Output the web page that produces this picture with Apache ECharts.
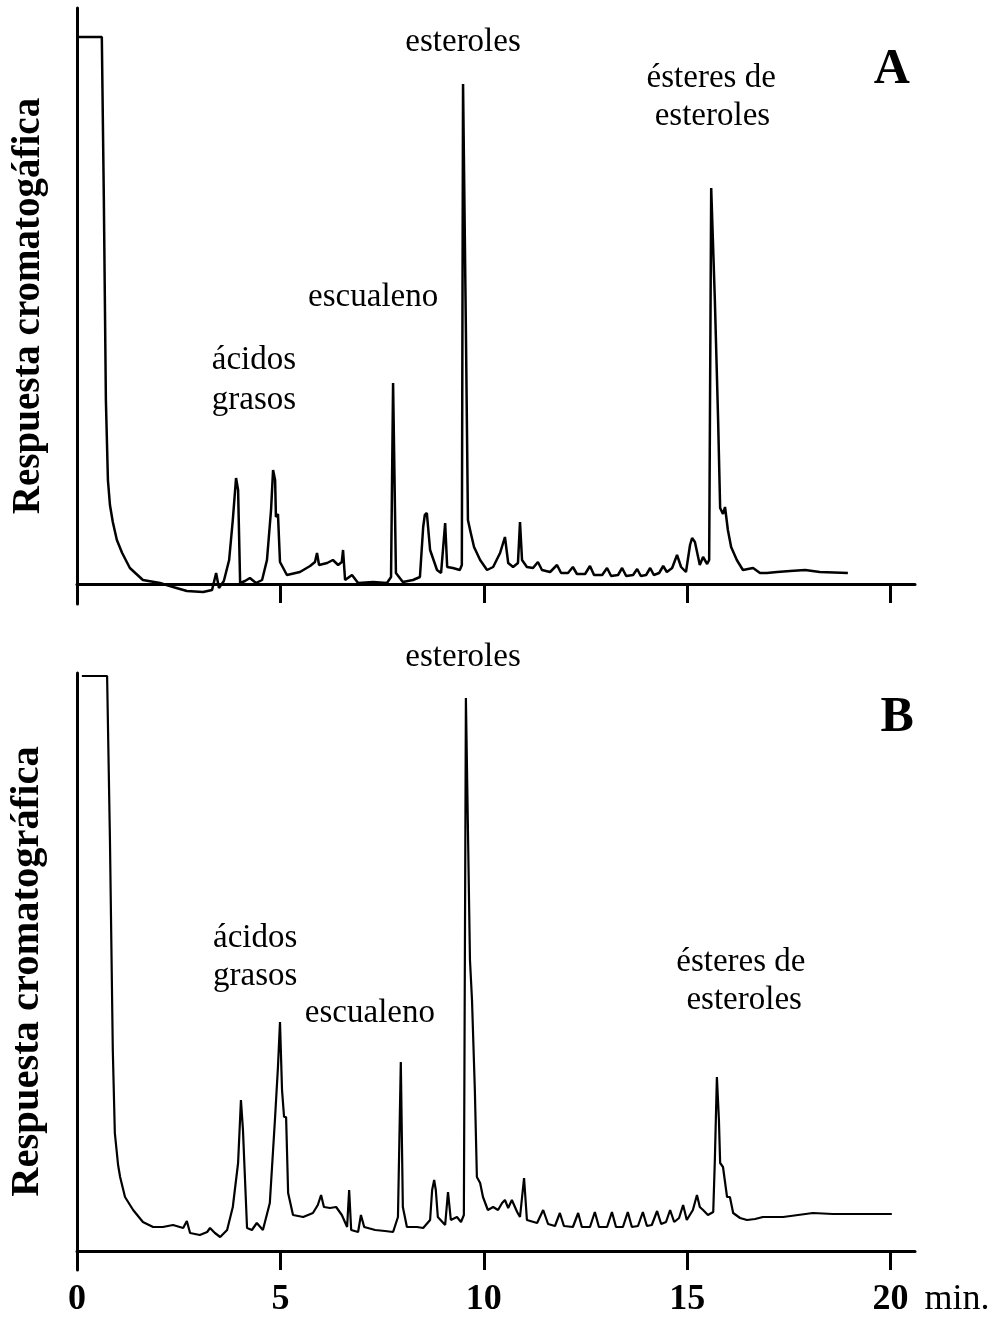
<!DOCTYPE html>
<html>
<head>
<meta charset="utf-8">
<script src="https://cdn.jsdelivr.net/npm/echarts@6/dist/echarts.min.js"></script>
<style>
  html, body { margin: 0; padding: 0; background: #fff; }
  #chart { width: 1003px; height: 1318px; }
</style>
</head>
<body>
<div id="chart"></div>
<script>
// cromatograma A (tiempo en min, respuesta en unidades arbitrarias)
const timeA = [0, 0.61, 0.66, 0.71, 0.76, 0.81, 0.88, 0.98, 1.11, 1.30, 1.62, 2.04, 2.36, 2.70, 3.10, 3.32, 3.42, 3.49, 3.61, 3.74,
  3.83, 3.91, 3.96, 4.01, 4.13, 4.25, 4.40, 4.55, 4.67, 4.77, 4.82, 4.87, 4.89, 4.94, 4.99, 5.16, 5.48, 5.73, 5.85, 5.90,
  5.95, 6.15, 6.29, 6.42, 6.51, 6.54, 6.59, 6.76, 6.91, 7.28, 7.62, 7.72, 7.77, 7.84, 8.01, 8.26, 8.43, 8.51, 8.55, 8.60,
  8.68, 8.85, 8.95, 9.05, 9.10, 9.24, 9.41, 9.46, 9.49, 9.56, 9.61, 9.68, 9.76, 9.91, 10.08, 10.23, 10.40, 10.52, 10.60, 10.72,
  10.84, 10.89, 10.94, 11.06, 11.21, 11.33, 11.43, 11.63, 11.80, 11.90, 12.07, 12.19, 12.29, 12.49, 12.61, 12.71, 12.91, 13.03, 13.13, 13.30,
  13.40, 13.50, 13.67, 13.77, 13.86, 13.99, 14.09, 14.18, 14.31, 14.41, 14.50, 14.63, 14.75, 14.85, 14.97, 15.07, 15.12, 15.19, 15.31, 15.39,
  15.49, 15.54, 15.59, 15.68, 15.76, 15.81, 15.88, 15.93, 16.00, 16.08, 16.22, 16.37, 16.62, 16.79, 16.96, 17.21, 17.53, 17.90, 18.26, 18.95];
const respA = [547, 547, 384, 184, 104, 79, 62, 44, 31, 16, 4, 1, -3, -7, -8, -6, 11, -4, 3, 24,
  64, 106, 94, 1, 3, 6, 1, 4, 24, 74, 114, 104, 67, 70, 22, 9, 12, 18, 22, 31,
  19, 21, 24, 19, 22, 34, 4, 9, 1, 2, 1, 7, 201, 11, 2, 4, 7, 57, 69, 71,
  34, 14, 11, 61, 17, 16, 14, 19, 500, 254, 64, 51, 37, 24, 14, 17, 31, 47, 21, 17,
  21, 62, 24, 17, 16, 22, 14, 12, 19, 11, 11, 17, 10, 10, 18, 9, 9, 16, 8, 9,
  16, 8, 9, 15, 8, 9, 16, 9, 11, 18, 12, 16, 29, 17, 12, 39, 46, 42, 19, 27,
  20, 24, 396, 284, 164, 76, 70, 77, 54, 37, 24, 14, 16, 11, 11, 12, 13, 14, 12, 11];

// cromatograma B
const timeB = [0.12, 0.74, 0.81, 0.88, 0.93, 1.01, 1.06, 1.18, 1.38, 1.62, 1.87, 2.11, 2.36, 2.61, 2.70, 2.78, 3.02, 3.20, 3.27, 3.39,
  3.52, 3.69, 3.83, 3.96, 4.03, 4.08, 4.11, 4.18, 4.30, 4.42, 4.57, 4.74, 4.87, 4.94, 4.99, 5.04, 5.09, 5.14, 5.19, 5.31,
  5.56, 5.80, 5.92, 6.00, 6.07, 6.22, 6.37, 6.51, 6.64, 6.69, 6.74, 6.91, 6.98, 7.06, 7.33, 7.57, 7.77, 7.89, 7.96, 8.01,
  8.11, 8.36, 8.51, 8.68, 8.73, 8.78, 8.82, 8.87, 9.05, 9.12, 9.19, 9.34, 9.44, 9.51, 9.56, 9.66, 9.71, 9.78, 9.83, 9.91,
  9.98, 10.10, 10.23, 10.35, 10.45, 10.52, 10.60, 10.69, 10.82, 10.89, 10.99, 11.06, 11.31, 11.46, 11.58, 11.75, 11.87, 11.97, 12.19, 12.32,
  12.41, 12.61, 12.73, 12.83, 13.03, 13.15, 13.25, 13.42, 13.54, 13.64, 13.79, 13.91, 14.01, 14.13, 14.26, 14.36, 14.48, 14.58, 14.68, 14.80,
  14.90, 14.99, 15.14, 15.24, 15.31, 15.39, 15.51, 15.64, 15.68, 15.73, 15.78, 15.81, 15.88, 15.98, 16.05, 16.13, 16.30, 16.47, 16.67, 16.86,
  17.36, 18.09, 18.58, 19.25, 20.03];
const respB = [575, 575, 411, 201, 118, 86, 74, 54, 41, 29, 24, 24, 26, 23, 30, 18, 16, 19, 23, 18,
  14, 21, 44, 88, 151, 121, 91, 23, 21, 28, 21, 48, 134, 184, 229, 161, 134, 134, 58, 36,
  34, 38, 46, 56, 44, 43, 44, 36, 24, 61, 21, 19, 36, 24, 21, 20, 19, 34, 189, 44,
  24, 24, 23, 31, 61, 71, 61, 34, 26, 59, 31, 34, 29, 36, 553, 291, 251, 161, 74, 68,
  54, 41, 44, 41, 48, 51, 43, 51, 39, 34, 73, 31, 28, 41, 27, 25, 38, 25, 24, 38,
  24, 24, 39, 24, 24, 39, 24, 24, 39, 24, 25, 39, 25, 26, 40, 27, 29, 41, 29, 33,
  46, 31, 41, 56, 44, 41, 36, 39, 91, 174, 131, 88, 84, 54, 54, 38, 33, 31, 32, 34,
  34, 38, 37, 37, 37];

const tickValues = [0, 5, 10, 15, 20];
const yTitleA = 'Respuesta cromatogáfica';
const yTitleB = 'Respuesta cromatográfica';

// rótulos de los picos: [texto, tiempo, respuesta]
const notesA = [
  ['esteroles', 9.49, 542], ['ésteres de', 15.59, 506], ['esteroles', 15.62, 468],
  ['escualeno', 7.28, 287], ['ácidos', 4.35, 224], ['grasos', 4.35, 184]
];
const notesB = [
  ['esteroles', 9.49, 594], ['ácidos', 4.38, 313], ['grasos', 4.38, 275],
  ['escualeno', 7.2, 238], ['ésteres de', 16.32, 289], ['esteroles', 16.4, 251]
];
const panelTags = [['A', 0, 20.03, 514], ['B', 1, 20.16, 533]];

const serif = '"Liberation Serif", "Times New Roman", serif';

function zip(t, v) {
  return t.map((x, i) => [x, v[i]]);
}

function xAxisFor(gridIndex, withLabels) {
  return {
    type: 'value',
    gridIndex: gridIndex,
    min: 0,
    max: 20.6,
    axisLine: { onZero: true, lineStyle: { color: '#000', width: 3 } },
    axisTick: { show: true, customValues: tickValues, length: 19, lineStyle: { color: '#000', width: 3 } },
    splitLine: { show: false },
    axisLabel: {
      show: withLabels,
      customValues: tickValues,
      margin: 12,
      color: '#000',
      formatter: function (v) {
        if (v === 20) return '{pad|}{b|20}{n|min.}';
        return '{b|' + v + '}';
      },
      rich: {
        b: { fontFamily: serif, fontWeight: 'bold', fontSize: 36, color: '#000' },
        n: { fontFamily: serif, fontSize: 36, color: '#000', padding: [0, 0, 0, 16] },
        pad: { width: 81 }
      }
    }
  };
}

function yAxisFor(gridIndex, min, max, title, size) {
  return {
    type: 'value',
    gridIndex: gridIndex,
    min: min,
    max: max,
    axisLine: { show: true, lineStyle: { color: '#000', width: 3 } },
    axisTick: { show: false },
    axisLabel: { show: false },
    splitLine: { show: false },
    name: title,
    nameLocation: 'middle',
    nameRotate: 90,
    nameGap: 29,
    nameTextStyle: { fontFamily: serif, fontWeight: 'bold', fontSize: size, color: '#000' }
  };
}

const chart = echarts.init(document.getElementById('chart'));

const option = {
  backgroundColor: '#fff',
  animation: false,
  grid: [
    { left: 77, top: 8, width: 838, height: 596, outerBoundsMode: 'none' },
    { left: 77, top: 673, width: 838, height: 597, outerBoundsMode: 'none' }
  ],
  xAxis: [xAxisFor(0, false), xAxisFor(1, true)],
  yAxis: [yAxisFor(0, -20, 576, yTitleA, 39), yAxisFor(1, -19, 578, yTitleB, 40.5)],
  series: [
    {
      type: 'line', xAxisIndex: 0, yAxisIndex: 0,
      data: zip(timeA, respA),
      showSymbol: false, smooth: false,
      lineStyle: { color: '#000', width: 2.5 }
    },
    {
      type: 'line', xAxisIndex: 1, yAxisIndex: 1,
      data: zip(timeB, respB),
      showSymbol: false, smooth: false,
      lineStyle: { color: '#000', width: 2.2 }
    }
  ]
};

chart.setOption(option);

// rótulos colocados en coordenadas de datos
const graphics = [];
[[notesA, 0], [notesB, 1]].forEach(function (pair) {
  pair[0].forEach(function (n) {
    const p = chart.convertToPixel({ gridIndex: pair[1] }, [n[1], n[2]]);
    graphics.push({
      type: 'text', x: p[0], y: p[1],
      style: { text: n[0], fontFamily: serif, fontSize: 33, fill: '#000', align: 'center', verticalAlign: 'middle' }
    });
  });
});
panelTags.forEach(function (tag) {
  const p = chart.convertToPixel({ gridIndex: tag[1] }, [tag[2], tag[3]]);
  graphics.push({
    type: 'text', x: p[0], y: p[1],
    style: { text: tag[0], fontFamily: serif, fontWeight: 'bold', fontSize: 50, fill: '#000', align: 'center', verticalAlign: 'middle' }
  });
});
chart.setOption({ graphic: graphics });
</script>
</body>
</html>
